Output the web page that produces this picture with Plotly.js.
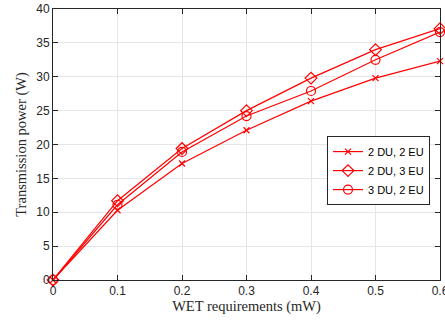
<!DOCTYPE html>
<html><head><meta charset="utf-8">
<script src="https://cdn.plot.ly/plotly-3.0.1.min.js"></script>
<style>html,body{margin:0;padding:0;background:#fff;overflow:hidden}</style>
</head><body><div id="chart" style="width:454px;height:321px"></div>
<script>
var wet = [0, 0.1, 0.2, 0.3, 0.4, 0.5, 0.6];
var du2eu2 = [0, 10.3, 17.2, 22.1, 26.4, 29.8, 32.3];
var du2eu3 = [0, 11.7, 19.4, 25.0, 29.8, 34.0, 37.1];
var du3eu2 = [0, 11.1, 18.9, 24.2, 27.9, 32.5, 36.6];
var xTicks = ['0', '0.1', '0.2', '0.3', '0.4', '0.5', '0.6'];
var names = ['2 DU, 2 EU', '2 DU, 3 EU', '3 DU, 2 EU'];
var symbols = ['x-thin-open', 'diamond-open', 'circle-open'];
var sizes = [6, 9, 9];
var series = [du2eu2, du2eu3, du3eu2];
var traces = series.map(function(s, i){
  return {x: wet, y: s, name: names[i], mode: 'lines+markers', type: 'scatter', cliponaxis: false,
    line: {color: '#ff0000', width: 1.2},
    marker: {symbol: symbols[i], size: sizes[i], color: '#ff0000', line: {color: '#ff0000', width: 1.2}}};
});
var axisCommon = {showline: true, linecolor: '#262626', linewidth: 1, mirror: 'ticks',
  ticks: 'inside', ticklen: 5, tickcolor: '#262626', showgrid: true, gridcolor: '#e6e6e6', gridwidth: 1,
  zeroline: false, tickfont: {family: 'Liberation Sans, Arial', size: 12, color: '#262626'}};
var layout = {
  width: 454, height: 321,
  margin: {l: 53, r: 14, t: 9, b: 41},
  paper_bgcolor: '#ffffff', plot_bgcolor: '#ffffff',
  xaxis: Object.assign({}, axisCommon, {range: [0, 0.6], tickvals: wet, ticktext: xTicks,
    title: {text: 'WET requirements (mW)', font: {family: 'Liberation Serif, Times New Roman', size: 14.5, color: '#262626'}, standoff: 3}}),
  yaxis: Object.assign({}, axisCommon, {range: [0, 40], dtick: 5,
    title: {text: 'Transmission power (W)', font: {family: 'Liberation Serif, Times New Roman', size: 14.5, color: '#262626'}, standoff: 6}}),
  legend: {x: 0.708, y: 0.531, xanchor: 'left', yanchor: 'top', bgcolor: '#ffffff', bordercolor: '#262626', borderwidth: 1,
    font: {family: 'Liberation Sans, Arial', size: 11, color: '#000'}, tracegroupgap: 0},
  showlegend: true
};
Plotly.newPlot('chart', traces, layout, {displayModeBar: false, staticPlot: true});
</script></body></html>
